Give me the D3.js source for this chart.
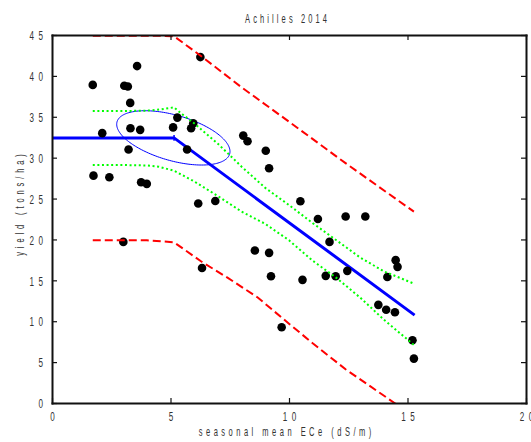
<!DOCTYPE html>
<html><head><meta charset="utf-8">
<script src="https://cdn.jsdelivr.net/npm/d3@7"></script>
<style>
body{margin:0;background:#fff}
text{font-family:"Liberation Sans",Arial,sans-serif;fill:#333}
</style>
</head><body>
<svg id="c" width="531" height="442"></svg>
<script>
// ---------- data ----------
const title = "Achilles 2014";
const xLabel = "seasonal mean ECe (dS/m)";
const yLabel = "yield (tons/ha)";
const xTicks = [0, 5, 10, 15, 20];
const yTicks = [0, 5, 10, 15, 20, 25, 30, 35, 40, 45];

const obsX = [1.72, 1.75, 2.12, 2.42, 3.01, 3.05, 3.20, 3.23, 3.30, 3.31, 3.59, 3.72, 3.76, 4.00,
              5.11, 5.29, 5.70, 5.87, 5.96, 6.17, 6.26, 6.33, 6.89, 8.07, 8.25, 8.56, 9.02, 9.16,
              9.16, 9.24, 9.69, 10.48, 10.57, 11.22, 11.55, 11.71, 11.97, 12.39, 12.46, 13.22,
              13.77, 14.10, 14.15, 14.47, 14.50, 14.58, 15.21, 15.27];
const obsY = [38.9, 27.8, 33.0, 27.6, 19.7, 38.8, 38.7, 31.0, 36.7, 33.6, 41.2, 33.4, 27.0, 26.8,
              33.7, 34.9, 31.0, 33.6, 34.2, 24.4, 42.3, 16.5, 24.7, 32.7, 32.0, 18.65, 30.85, 28.7,
              18.36, 15.5, 9.26, 24.67, 15.06, 22.5, 15.55, 19.7, 15.5, 22.8, 16.16, 22.8,
              12.0, 11.4, 15.4, 11.1, 17.47, 16.65, 7.67, 5.43];

// fitted threshold-slope model
const fitX = [0, 5.15, 15.3];
const fitY = [32.42, 32.42, 10.75];
const breakPoint = [5.15, 32.42];
const breakErr = 0.35;

// confidence ellipse of threshold (center, half extents, correlation)
const ellCenter = [5.12, 32.42];
const ellHalf = [2.39, 3.32];
const ellRho = -0.5;

// confidence band (green dotted)
const ciUpX = [1.72, 3.0, 4.0, 4.6, 5.15, 5.5, 6.0, 7.0, 8.0, 9.0, 10.0, 11.0, 12.0, 13.0, 14.0, 15.27];
const ciUpY = [35.7, 35.7, 35.75, 35.9, 36.15, 35.3, 34.2, 31.7, 28.9, 26.3, 24.2, 22.0, 19.9, 17.8, 16.1, 14.6];
const ciLoX = [1.72, 3.0, 4.0, 4.5, 5.15, 6.0, 7.0, 8.0, 9.0, 10.0, 11.0, 12.0, 13.0, 14.0, 15.27];
const ciLoY = [29.1, 29.1, 29.05, 28.9, 28.4, 27.1, 25.3, 23.4, 21.9, 19.9, 17.4, 15.3, 12.9, 10.2, 7.1];

// prediction band (red dashed)
const piUpX = [1.72, 4.5, 5.15, 6.3, 8.0, 10.0, 12.4, 15.27];
const piUpY = [44.9, 44.9, 44.85, 42.4, 38.6, 34.4, 29.3, 23.4];
const piLoX = [1.72, 4.0, 5.15, 6.3, 7.42, 8.68, 10.0, 11.0, 12.4, 14.45, 15.27];
const piLoY = [19.9, 19.9, 19.65, 17.3, 15.3, 12.9, 9.7, 7.3, 4.1, 0.0, -1.7];

// ---------- drawing ----------
const W = 531, H = 442;
const L = 52, R = 526, T = 35, B = 403;
const svg = d3.select("#c");
svg.append("rect").attr("width", W).attr("height", H).attr("fill", "#fff");

const x = d3.scaleLinear().domain([0, 20]).range([L, R]);
const y = d3.scaleLinear().domain([0, 45]).range([B, T]);

svg.append("defs").append("clipPath").attr("id", "clip")
  .append("rect").attr("x", L).attr("y", T).attr("width", R - L).attr("height", B - T);

const SX = 0.6;
function stext(g, str, tx, ty, anchor, ls, rot, size) {
  const lsL = ls / SX;
  const t = g.append("text")
    .attr("transform", `translate(${tx},${ty})` + (rot ? ` rotate(${rot})` : "") + ` scale(${SX},1)`)
    .attr("text-anchor", anchor)
    .attr("font-size", size || 12.5)
    .attr("letter-spacing", lsL)
    .attr("dy", "0.35em")
    .text(str);
  if (anchor === "middle") t.attr("dx", lsL / 2);
  if (anchor === "end") t.attr("dx", lsL);
  return t;
}

const plot = svg.append("g").attr("clip-path", "url(#clip)");
const line = d3.line().x(d => x(d[0])).y(d => y(d[1]));
const pairs = (a, b) => a.map((v, i) => [v, b[i]]);

// fitted line (under points)
plot.append("path").attr("d", line(pairs(fitX, fitY)))
  .attr("fill", "none").attr("stroke", "#0000ff").attr("stroke-width", 3);
plot.append("line")
  .attr("x1", x(breakPoint[0])).attr("x2", x(breakPoint[0]))
  .attr("y1", y(breakPoint[1] - breakErr)).attr("y2", y(breakPoint[1] + breakErr))
  .attr("stroke", "#0000ff").attr("stroke-width", 1.5);

// ellipse
const angles = d3.range(0, 2 * Math.PI + 0.01, Math.PI / 90);
const ellPts = angles.map(t => [
  ellCenter[0] + ellHalf[0] * Math.cos(t),
  ellCenter[1] + ellHalf[1] * (ellRho * Math.cos(t) - Math.sqrt(1 - ellRho * ellRho) * Math.sin(t))
]);
plot.append("path").attr("d", line(ellPts) + "Z")
  .attr("fill", "none").attr("stroke", "#0000ff").attr("stroke-width", 1);

// points
plot.selectAll("circle.obs").data(pairs(obsX, obsY)).enter().append("circle")
  .attr("class", "obs")
  .attr("cx", d => x(d[0])).attr("cy", d => y(d[1])).attr("r", 4.3).attr("fill", "#000");

// bands
[[ciUpX, ciUpY], [ciLoX, ciLoY]].forEach(([a, b]) => {
  plot.append("path").attr("d", line(pairs(a, b)))
    .attr("fill", "none").attr("stroke", "#00ff00").attr("stroke-width", 2)
    .attr("stroke-dasharray", "2,2.6");
});
[[piUpX, piUpY], [piLoX, piLoY]].forEach(([a, b]) => {
  plot.append("path").attr("d", line(pairs(a, b)))
    .attr("fill", "none").attr("stroke", "#ff0000").attr("stroke-width", 2)
    .attr("stroke-dasharray", "8,4");
});

// axes (inward ticks, box)
const ax = svg.append("g");
function styleAxis(g) {
  g.select(".domain").attr("stroke", "#111").attr("stroke-width", 2).attr("stroke-linecap", "square");
  g.selectAll(".tick line").attr("stroke", "#111").attr("stroke-width", 1.2);
}
const gBot = ax.append("g").attr("transform", `translate(0,${B})`)
  .call(d3.axisBottom(x).tickValues(xTicks).tickSize(-5).tickSizeOuter(0).tickFormat(d3.format("d")));
const gLeft = ax.append("g").attr("transform", `translate(${L},0)`)
  .call(d3.axisLeft(y).tickValues(yTicks).tickSize(-5).tickSizeOuter(0).tickFormat(d3.format("d")));
const gTop = ax.append("g").attr("transform", `translate(0,${T})`)
  .call(d3.axisTop(x).tickValues(xTicks).tickSize(-5).tickSizeOuter(0).tickFormat(""));
const gRight = ax.append("g").attr("transform", `translate(${R},0)`)
  .call(d3.axisRight(y).tickValues(yTicks).tickSize(-5).tickSizeOuter(0).tickFormat(""));
[gBot, gLeft, gTop, gRight].forEach(styleAxis);
gTop.selectAll("text").remove();
gRight.selectAll("text").remove();

// restyle tick labels
gBot.selectAll(".tick").each(function(d) {
  const g = d3.select(this);
  g.select("text").remove();
  stext(g, d3.format("d")(d), 0, 13, "middle", 4.4, 0, 13.5);
});
gLeft.selectAll(".tick").each(function(d) {
  const g = d3.select(this);
  g.select("text").remove();
  stext(g, d3.format("d")(d), -9, 0, "end", 4.4, 0, 13.5);
});

// labels
stext(svg, title, (L + R) / 2 - 3, 19, "middle", 3.1, 0, 12.5);
stext(svg, xLabel, (L + R) / 2 - 4, 432, "middle", 3.5, 0, 12.5);
stext(svg, yLabel, 20, 205, "middle", 3.9, -90, 12.5);
</script>
</body></html>
